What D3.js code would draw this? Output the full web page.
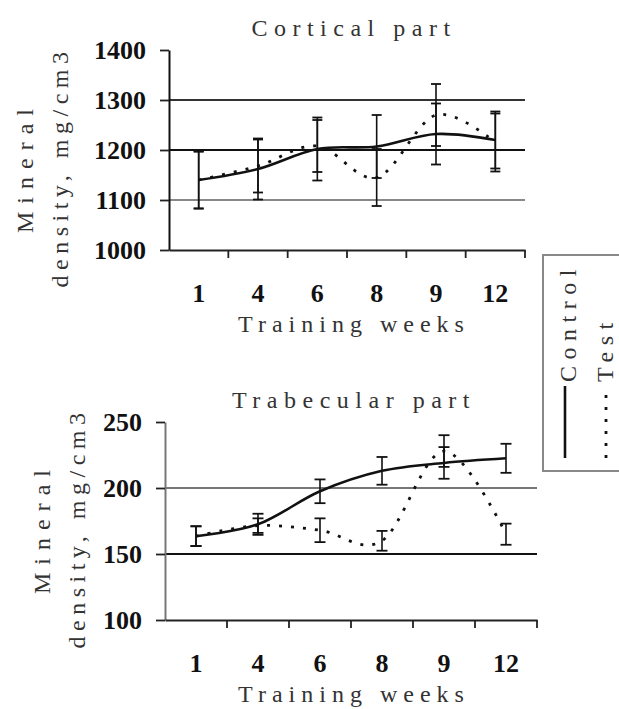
<!DOCTYPE html>
<html><head><meta charset="utf-8">
<script src="https://cdn.jsdelivr.net/npm/d3@7"></script>
<style>
body{margin:0;background:#fff;}
</style></head>
<body>
<svg id="c" width="619" height="709"></svg>
<script>
const FONT = "'Liberation Serif'";
const weeks = ["1","4","6","8","9","12"];
// Cortical part
const corticalControl = [1140, 1162, 1202, 1207, 1232, 1220];
const corticalControlErr = [57, 61, 63, 63, 61, 57];
const corticalTest = [1140, 1168, 1208, 1145, 1270, 1215];
const corticalTestErr = [57, 53, 52, 57, 62, 58];
const corticalTicks = [1000, 1100, 1200, 1300, 1400];
const corticalGrid = [1100, 1200, 1300];
// Trabecular part
const trabControl = [163.5, 172.5, 197.5, 213, 219, 222.5];
const trabControlErr = [7.5, 8, 9, 10.5, 12, 11];
const trabTest = [163.5, 171.5, 168, 160, 228, 165];
const trabTestErr = [7.5, 5.5, 9, 7.5, 12, 8];
const trabTicks = [100, 150, 200, 250];
const trabGrid = [150, 200];

const svg = d3.select("#c");

function panel(o){
  const g = svg.append("g");
  const x = d3.scaleBand().domain(weeks).range([o.x0, o.x1]).padding(0);
  const y = d3.scaleLinear().domain(o.domain).range([o.y0, o.y1]);

  g.selectAll(".grid").data(o.grid).join("line")
    .attr("x1", o.x0).attr("x2", o.x1)
    .attr("y1", d=>y(d)).attr("y2", d=>y(d))
    .attr("stroke", (d,i)=>o.gridColors[i]).attr("stroke-width", 1.8);

  const ya = g.append("g").attr("transform", `translate(${o.x0},0)`)
    .call(d3.axisLeft(y).tickValues(o.ticks).tickFormat(d3.format("d")).tickSize(9).tickPadding(o.tickPad).tickSizeOuter(0));
  ya.attr("font-family", null);
  ya.select(".domain").attr("stroke", o.axisColor).attr("stroke-width", 2);
  ya.selectAll(".tick line").attr("stroke", "#222").attr("stroke-width", 1.8);
  ya.selectAll(".tick text").style("font-family", FONT).style("font-size","26px").style("font-weight","bold")
    .attr("fill","#111");

  const xa = g.append("g").attr("transform", `translate(0,${o.y0})`)
    .call(d3.axisBottom(x).tickSize(0).tickPadding(0).tickSizeOuter(0));
  xa.attr("font-family", null);
  xa.select(".domain").attr("stroke", "#222").attr("stroke-width", 2);
  xa.selectAll(".tick text").style("font-family", FONT).style("font-size","26px").style("font-weight","bold")
    .attr("dy", null).attr("y", 52).attr("fill","#111");
  const bounds = weeks.map(w=>x(w)).slice(1).concat([o.x1]);
  g.selectAll(".xt").data(bounds).join("line")
    .attr("x1", d=>d).attr("x2", d=>d).attr("y1", o.y0).attr("y2", o.y0+8)
    .attr("stroke", "#222").attr("stroke-width", 1.8);

  const cx = w => x(w) + x.bandwidth()/2;

  function errs(vals, er){
    const eg = g.append("g");
    weeks.forEach((w,i)=>{
      const xc = cx(w), lo = y(vals[i]-er[i]), hi = y(vals[i]+er[i]);
      eg.append("line").attr("x1",xc).attr("x2",xc).attr("y1",lo).attr("y2",hi)
        .attr("stroke","#111").attr("stroke-width",1.6);
      [lo,hi].forEach(v=>eg.append("line").attr("x1",xc-o.cap).attr("x2",xc+o.cap)
        .attr("y1",v).attr("y2",v).attr("stroke","#111").attr("stroke-width",1.8));
    });
  }
  errs(o.control, o.controlErr);
  errs(o.test, o.testErr);

  const line = d3.line().x((d,i)=>cx(weeks[i])).y(d=>y(d)).curve(d3.curveCardinal.tension(0));
  g.append("path").attr("d", line(o.test)).attr("fill","none").attr("stroke","#111")
    .attr("stroke-width",2.8).attr("stroke-dasharray","3,9");
  g.append("path").attr("d", line(o.control)).attr("fill","none").attr("stroke","#111")
    .attr("stroke-width",2.6);

  const txt = (sel)=>sel.style("font-family", FONT).style("font-size","24px").attr("fill","#333");
  txt(g.append("text").attr("x", 354).attr("y", o.titleY).attr("text-anchor","middle"))
    .style("letter-spacing","6.5px").text(o.title);
  txt(g.append("text").attr("x", 354).attr("y", o.y0+82).attr("text-anchor","middle"))
    .style("letter-spacing","6px").text("Training weeks");

  txt(g.append("text").attr("transform",`translate(${o.yt1},${o.ytc}) rotate(-90)`).attr("text-anchor","middle"))
    .style("letter-spacing","8px").text("Mineral");
  txt(g.append("text").attr("transform",`translate(${o.yt2},${o.ytc}) rotate(-90)`).attr("text-anchor","middle"))
    .style("letter-spacing","5.5px").text("density, mg/cm3");
}

panel({x0:169, x1:525, y0:250, y1:50, domain:[1000,1400], ticks:corticalTicks, grid:corticalGrid,
  gridColors:["#888","#111","#333"], axisColor:"#111", tickPad:14, cap:5,
  control:corticalControl, controlErr:corticalControlErr, test:corticalTest, testErr:corticalTestErr,
  title:"Cortical part", titleY:36, yt1:33, yt2:68, ytc:167});

panel({x0:165, x1:537, y0:620, y1:422, domain:[100,250], ticks:trabTicks, grid:trabGrid,
  gridColors:["#111","#777"], axisColor:"#777", tickPad:14, cap:5.5,
  control:trabControl, controlErr:trabControlErr, test:trabTest, testErr:trabTestErr,
  title:"Trabecular part", titleY:408, yt1:50, yt2:85, ytc:528});

// legend
const lg = svg.append("g");
lg.append("path").attr("d","M640,255 H543 V471 H640").attr("fill","none").attr("stroke","#888").attr("stroke-width",2);
const legendItems = [{name:"Control", dash:null, x:565, tx:576}, {name:"Test", dash:"3,9", x:606, tx:613}];
legendItems.forEach(it=>{
  lg.append("line").attr("x1",it.x).attr("x2",it.x).attr("y1",458).attr("y2",386)
    .attr("stroke","#111").attr("stroke-width",it.dash?2.8:2.6).attr("stroke-dasharray",it.dash);
  lg.append("text").attr("transform",`translate(${it.tx},382) rotate(-90)`)
    .style("font-family", FONT).style("font-size","24px").style("letter-spacing","6.5px")
    .attr("fill","#333").text(it.name);
});
</script>
</body></html>
